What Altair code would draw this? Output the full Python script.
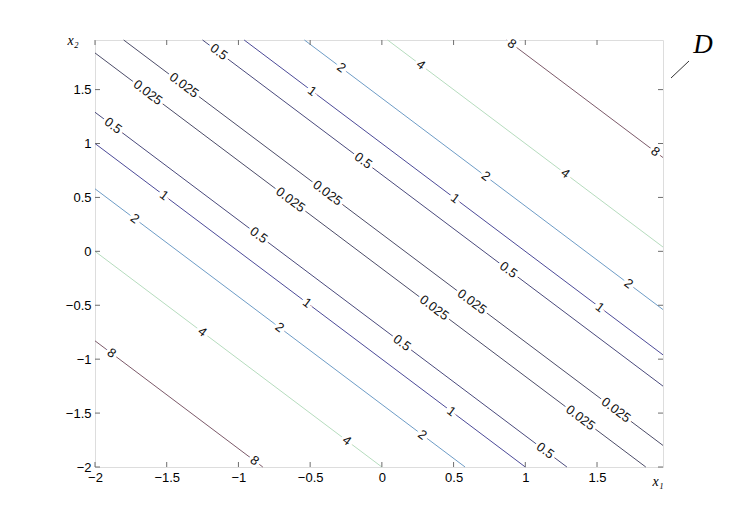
import altair as alt
import pandas as pd

# ---- data ----
levels = ["0.025", "0.5", "1", "2", "4", "8"]
level_colors = ["#4c4c68", "#4a4a7c", "#4c4a98", "#6e9cc6", "#b6dcbe", "#7c5a6a"]

# contour lines (straight): level, start point, end point (data coords)
line_level = ["8", "4", "2", "1", "0.5", "0.025", "0.025", "0.5", "1", "2", "4", "8"]
line_xa = [-2, -2, -2, -2, -2, -2, -1.80, -1.25, -0.96, -0.54, 0.04, 0.87]
line_ya = [-0.83, 0, 0.58, 1, 1.29, 1.84, 1.96, 1.96, 1.96, 1.96, 1.96, 1.96]
line_xb = [-0.83, 0, 0.58, 1, 1.29, 1.84, 1.96, 1.96, 1.96, 1.96, 1.96, 1.96]
line_yb = [-2, -2, -2, -2, -2, -2, -1.80, -1.25, -0.96, -0.54, 0.04, 0.87]

# contour labels
lab_text = ["0.5", "0.025", "0.025", "0.5", "1", "2", "4", "8", "8", "4", "2", "1",
            "0.5", "0.025", "0.025", "0.025", "0.025", "0.5", "0.5", "1", "2", "4",
            "8", "8", "4", "2", "1", "0.5", "0.025", "0.025", "0.5", "1", "2", "1", "2"]
lab_x = [-1.137, -1.38, -1.632, -1.874, -1.518, -1.723, -1.252, -1.884, -0.888, -0.244,
         0.282, 0.484, 0.14, 0.364, 0.628, 1.384, 1.632, 1.139, 0.882, 1.52, 1.72, 1.278,
         1.906, 0.906, 0.271, -0.283, -0.486, -0.13, -0.38, -0.638, -0.859, -0.521,
         -0.714, 0.51, 0.724]
lab_y = [1.848, 1.54, 1.472, 1.164, 0.518, 0.303, -0.748, -0.946, -1.942, -1.756,
         -1.702, -1.484, -0.85, -0.524, -0.468, -1.544, -1.472, -1.849, -0.172, -0.52,
         -0.3, 0.722, 0.924, 1.924, 1.729, 1.703, 1.486, 0.84, 0.54, 0.478, 0.149,
         -0.479, -0.706, 0.49, 0.696]

x_ticks = [-2, -1.5, -1, -0.5, 0, 0.5, 1, 1.5]
y_ticks = [-2, -1.5, -1, -0.5, 0, 0.5, 1, 1.5]
x_lim = [-2, 1.96]
y_lim = [-2, 1.96]

W, H = 568, 427
FONT = "Liberation Sans"
SERIF = "Liberation Serif"

df_lines = pd.DataFrame({"level": line_level, "xa": line_xa, "ya": line_ya,
                         "xb": line_xb, "yb": line_yb})
df_labels = pd.DataFrame({"text": lab_text, "x": lab_x, "y": lab_y})
df_xt = pd.DataFrame({"v": x_ticks})
df_yt = pd.DataFrame({"v": y_ticks})
one = pd.DataFrame({"a": [0]})

xs = alt.Scale(domain=x_lim, nice=False, zero=False)
ys = alt.Scale(domain=y_lim, nice=False, zero=False)

x_axis = alt.Axis(values=x_ticks, title=None, grid=False, ticks=False, tickSize=0,
                  domain=False, labelFont=FONT, labelFontSize=13, labelColor="#000",
                  labelPadding=4, format="~g", labelFlush=False)
y_axis = alt.Axis(values=y_ticks, title=None, grid=False, ticks=False, tickSize=0,
                  domain=False, labelFont=FONT, labelFontSize=13, labelColor="#000",
                  labelPadding=4, format="~g")

lines = alt.Chart(df_lines).mark_rule(strokeWidth=1).encode(
    x=alt.X("xa:Q", scale=xs, axis=x_axis),
    y=alt.Y("ya:Q", scale=ys, axis=y_axis),
    x2="xb:Q",
    y2="yb:Q",
    color=alt.Color("level:N", scale=alt.Scale(domain=levels, range=level_colors), legend=None),
)

halo = alt.Chart(df_labels).mark_text(
    font=FONT, fontSize=13, angle=37, color="white", stroke="white", strokeWidth=6,
    align="center", baseline="middle"
).encode(x=alt.X("x:Q", scale=xs), y=alt.Y("y:Q", scale=ys), text="text:N")

labels = alt.Chart(df_labels).mark_text(
    font=FONT, fontSize=13, angle=37, color="#111", align="center", baseline="middle"
).encode(x=alt.X("x:Q", scale=xs), y=alt.Y("y:Q", scale=ys), text="text:N")

TICK = "#6e6e6e"
tick_b = alt.Chart(df_xt).mark_rule(color=TICK).encode(
    x=alt.X("v:Q", scale=xs), y=alt.value(H), y2=alt.value(H - 5))
tick_t = alt.Chart(df_xt).mark_rule(color=TICK).encode(
    x=alt.X("v:Q", scale=xs), y=alt.value(0), y2=alt.value(5))
tick_l = alt.Chart(df_yt).mark_rule(color=TICK).encode(
    y=alt.Y("v:Q", scale=ys), x=alt.value(0), x2=alt.value(5))
tick_r = alt.Chart(df_yt).mark_rule(color=TICK).encode(
    y=alt.Y("v:Q", scale=ys), x=alt.value(W), x2=alt.value(W - 5))

x2_lab = alt.Chart(one).mark_text(font=SERIF, fontSize=14, fontStyle="italic",
                                  text="x₂", color="#000").encode(
    x=alt.value(-22), y=alt.value(1))
x1_lab = alt.Chart(one).mark_text(font=SERIF, fontSize=14, fontStyle="italic",
                                  text="x₁", color="#000").encode(
    x=alt.value(563), y=alt.value(442))
d_lab = alt.Chart(one).mark_text(font=SERIF, fontSize=27, fontStyle="italic",
                                 text="D", color="#000").encode(
    x=alt.value(608), y=alt.value(5))
d_line = alt.Chart(one).mark_rule(color="#333", strokeWidth=1).encode(
    x=alt.value(576), y=alt.value(38), x2=alt.value(594), y2=alt.value(21))

chart = alt.layer(
    lines, halo, labels, tick_b, tick_t, tick_l, tick_r, x2_lab, x1_lab, d_lab, d_line
).properties(
    width=W, height=H,
    autosize=alt.AutoSizeParams(type="none"),
    padding={"left": 87, "top": 32, "right": 60, "bottom": 40},
).configure_view(stroke="#6e6e6e", strokeWidth=1).configure(background="white")

chart.save("out.html", embed_options={"renderer": "svg", "actions": False})
